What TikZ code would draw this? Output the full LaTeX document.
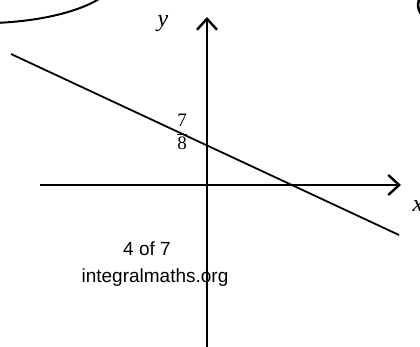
\documentclass[tikz,border=0pt]{standalone}
\usepackage{fontspec}
\setmainfont{Liberation Serif}
\newfontfamily\arialfont{Liberation Sans}
\usetikzlibrary{arrows.meta}
\begin{document}
\begin{tikzpicture}[x=1pt,y=-1pt,
  axis/.style={line width=2.6pt,-{Straight Barb[length=11pt,width=20pt,line width=2.4pt]}},
  graphline/.style={line width=1.8pt},
  lbl/.style={inner sep=0pt,font=\fontsize{24}{24}\selectfont\itshape},
  wm/.style={inner sep=0pt,anchor=base,font=\arialfont\fontsize{19}{20}\selectfont}]
\useasboundingbox (0,0) rectangle (420,347);
\clip (0,0) rectangle (420,347);
% speech bubble fragments
\draw[line width=2pt] (-5,23) .. controls (45,21) and (85,10) .. (105,-5);
\draw[line width=2.5pt] (421,-4) .. controls (417,2) and (417,8) .. (421,14);
% axes
\coordinate (xs) at (40,185);
\coordinate (xe) at (401,185);
\coordinate (ys) at (207,350);
\coordinate (ye) at (207,17);
\draw[axis] (xs) -- (xe);
\draw[axis] (ys) -- (ye);
% line
\coordinate (la) at (11,54);
\coordinate (lb) at (399,235);
\draw[graphline] (la) -- (lb);
% labels
\node[lbl] (ylab) at (163,24) {y};
\node[lbl] (xlab) at (418,206) {x};
\node[inner sep=0pt,font=\fontsize{19}{19}\selectfont] (frac) at (182,132)
  {$\displaystyle\frac{\hbox{\fontsize{19}{19}\selectfont 7}}{\hbox{\fontsize{19}{19}\selectfont 8}}$};
\node[wm] (wm1) at (147,255) {4 of 7};
\node[wm] (wm2) at (155,283) {integralmaths.org};
\end{tikzpicture}
\end{document}
